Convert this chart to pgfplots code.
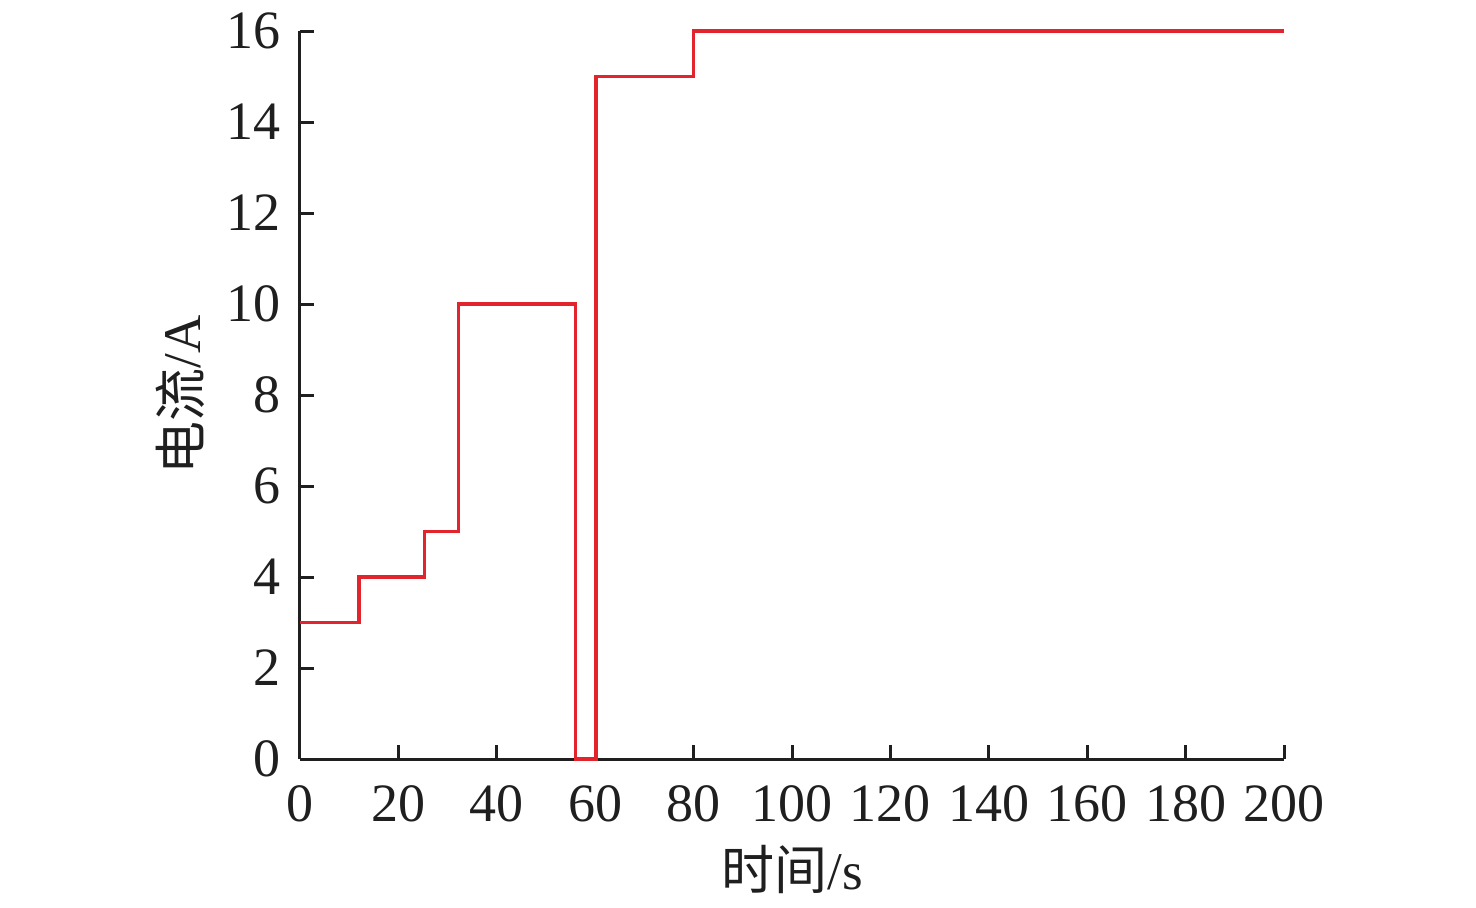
\documentclass[border=0pt]{standalone}
\usepackage{pgfplots}
\pgfplotsset{compat=1.18}
\usepackage{fontspec}
\setmainfont{Liberation Serif}
\newfontfamily\cjk{Noto Sans CJK SC}
\definecolor{cred}{RGB}{226,36,44}
\begin{document}
\begin{tikzpicture}
\path[use as bounding box] (-150pt,-74pt) rectangle (588pt,379.5pt);
\begin{axis}[
  at={(0,0)}, anchor=south west,
  scale only axis, width=492pt, height=364pt,
  xmin=0, xmax=200, ymin=0, ymax=16,
  axis x line*=bottom, axis y line*=left,
  axis line style={line width=1.5pt, black!88},
  xtick={0,20,...,200}, ytick={0,2,...,16},
  tick align=inside,
  major tick length=7pt,
  tick style={line width=1.5pt, black!88},
  /pgf/number format/assume math mode=true,
  ticklabel style={font=\fontsize{27}{31}\selectfont, text=black!88},
  xticklabel style={yshift=-10pt},
  yticklabel style={xshift=-6pt},
  xlabel={{\cjk 时间}/s},
  ylabel={{\cjk 电流}/A},
  label style={font=\fontsize{26.5}{30}\selectfont, text=black!88},
  xlabel style={at={(rel axis cs:0.5,0)}, anchor=center, yshift=-55pt},
  ylabel style={at={(rel axis cs:0,0.5)}, anchor=center, yshift=60pt},
  clip=false,
]
\addplot[const plot, cred, line width=1.7pt] coordinates {
(0,3) (12,4) (25.3,5) (32.2,10) (56,0) (60.2,15) (80,16) (200,16)
};
\end{axis}
\end{tikzpicture}
\end{document}
